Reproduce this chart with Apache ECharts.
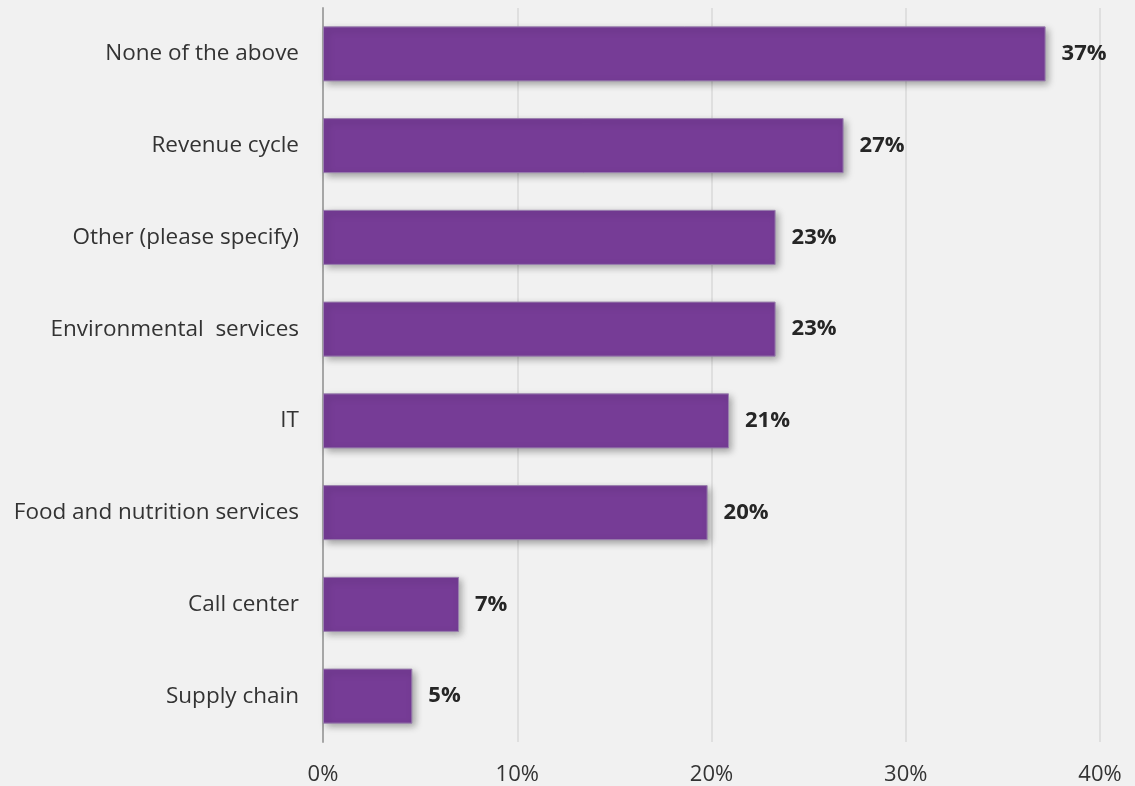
<!DOCTYPE html>
<html>
<head>
<meta charset="utf-8">
<style>
  html, body { margin: 0; padding: 0; background: #f1f1f1; }
  #chart { width: 1135px; height: 786px; }
</style>
<script src="https://cdn.jsdelivr.net/npm/echarts@6/dist/echarts.min.js"></script>
</head>
<body>
<div id="chart"></div>
<script>
// Areas named by respondents (share of responses, %)
const categories = [
  'None of the above',
  'Revenue cycle',
  'Other (please specify)',
  'Environmental  services',
  'IT',
  'Food and nutrition services',
  'Call center',
  'Supply chain'
];
const shares = [37.2, 26.8, 23.3, 23.3, 20.9, 19.8, 7.0, 4.6];
const axisTicks = [0, 10, 20, 30, 40];

const chart = echarts.init(document.getElementById('chart'));
chart.setOption({
  backgroundColor: '#f1f1f1',
  animation: false,
  textStyle: { fontFamily: '"Open Sans", "Noto Sans", sans-serif' },
  grid: { left: 323, right: 35, top: 8, bottom: 42, containLabel: false },
  xAxis: {
    type: 'value',
    min: axisTicks[0],
    max: axisTicks[axisTicks.length - 1],
    interval: axisTicks[1] - axisTicks[0],
    axisLine: { show: false },
    axisTick: { show: false },
    splitLine: { show: true, lineStyle: { color: '#d9d9d9', width: 1.5 } },
    axisLabel: {
      formatter: v => v + '%',
      color: '#333',
      fontSize: 22,
      margin: 22
    }
  },
  yAxis: {
    type: 'category',
    data: categories,
    inverse: true,
    axisLine: { show: true, lineStyle: { color: '#a6a6a6', width: 2 } },
    axisTick: { show: false },
    axisLabel: { color: '#333', fontSize: 22.5, margin: 24 }
  },
  series: [{
    type: 'bar',
    data: shares,
    barCategoryGap: '40%',
    itemStyle: {
      color: '#763c96',
      borderColor: '#9a80ae',
      borderWidth: 1,
      shadowColor: 'rgba(0,0,0,0.35)',
      shadowBlur: 7,
      shadowOffsetX: 3,
      shadowOffsetY: 3
    },
    label: {
      show: true,
      position: 'right',
      distance: 16,
      formatter: p => Math.round(p.value) + '%',
      color: '#262626',
      fontSize: 22,
      fontWeight: 'bold'
    }
  }]
});
</script>
</body>
</html>
